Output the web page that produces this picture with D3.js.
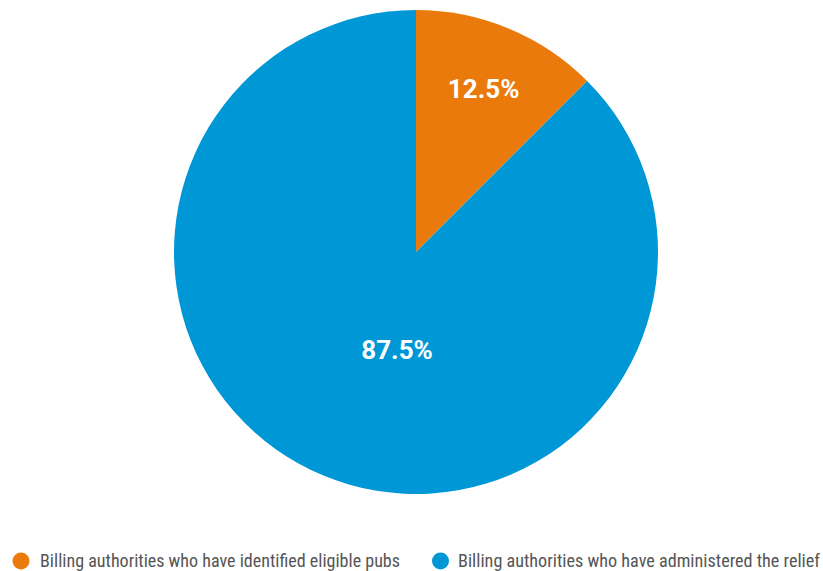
<!DOCTYPE html>
<html>
<head>
<meta charset="utf-8">
<script src="https://cdn.jsdelivr.net/npm/d3@7"></script>
<style>
  html, body { margin: 0; padding: 0; background: #fff; }
  svg { display: block; }
</style>
</head>
<body>
<svg id="chart" width="823" height="571"></svg>
<script>
// Share of billing authorities by stage reached
const categories = [
  "Billing authorities who have identified eligible pubs",
  "Billing authorities who have administered the relief"
];
const values = [12.5, 87.5];
const colors = ["#EA7A0C", "#0097D6"];

const W = 823, H = 571;
const cx = 416, cy = 252, radius = 242;

const svg = d3.select("#chart");

const pie = d3.pie().sort(null).value(d => d.value);
const arcs = pie(categories.map((c, i) => ({ name: c, value: values[i], color: colors[i] })));

const arc = d3.arc().innerRadius(0).outerRadius(radius);

const g = svg.append("g").attr("transform", `translate(${cx},${cy})`);

g.selectAll("path.slice")
  .data(arcs)
  .join("path")
  .attr("class", "slice")
  .attr("d", arc)
  .attr("fill", d => d.data.color);

// Percentage labels: small slices sit near the rim, large ones nearer the middle
const total = d3.sum(values);
function labelPos(d) {
  const frac = d.data.value / total;
  const mid = (d.startAngle + d.endAngle) / 2;
  const rr = frac < 0.5 ? radius * 0.73 : radius * 0.41;
  const ang = frac < 0.5 ? mid : mid - 0.2;
  return [Math.sin(ang) * rr, -Math.cos(ang) * rr];
}

g.selectAll("text.pct")
  .data(arcs)
  .join("text")
  .attr("class", "pct")
  .attr("x", d => labelPos(d)[0])
  .attr("y", d => labelPos(d)[1])
  .attr("dy", "0.36em")
  .attr("text-anchor", "middle")
  .attr("fill", "#ffffff")
  .attr("font-family", "Roboto, 'Noto Sans', sans-serif")
  .attr("font-weight", 700)
  .attr("font-size", 26)
  .text(d => d3.format(".1f")(d.data.value) + "%");

// Legend along the bottom
const legendY = 561;
const legendItems = [
  { x: 21, textX: 40, width: 360 },
  { x: 440.5, textX: 458, width: 362 }
];
const leg = svg.append("g");
categories.forEach((c, i) => {
  const item = legendItems[i];
  leg.append("circle")
    .attr("cx", item.x)
    .attr("cy", legendY)
    .attr("r", 8.5)
    .attr("fill", colors[i]);
  leg.append("text")
    .attr("x", item.textX)
    .attr("y", legendY)
    .attr("dy", "0.36em")
    .attr("fill", "#555555")
    .attr("font-family", "'Roboto Condensed', 'Liberation Sans Narrow', Roboto, sans-serif")
    .attr("font-size", 18)
    .attr("textLength", item.width)
    .attr("lengthAdjust", "spacingAndGlyphs")
    .text(c);
});
</script>
</body>
</html>
